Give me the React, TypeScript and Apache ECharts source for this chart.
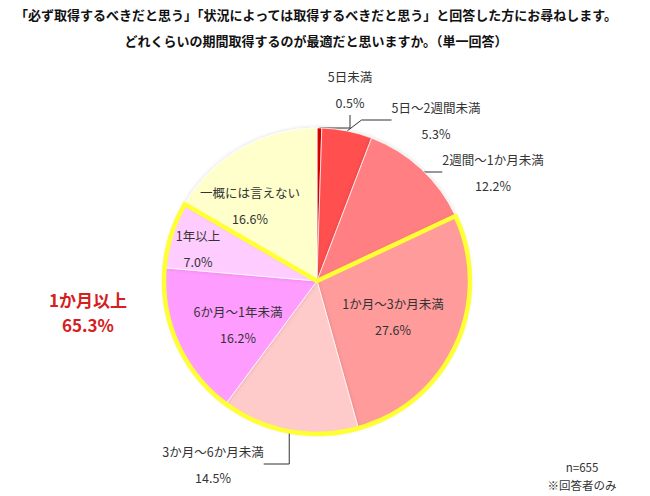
import React, { useEffect, useRef } from 'react';
import * as echarts from 'echarts';

const categories = [
  '5日未満',
  '5日～2週間未満',
  '2週間～1か月未満',
  '1か月～3か月未満',
  '3か月～6か月未満',
  '6か月～1年未満',
  '1年以上',
  '一概には言えない',
];
const values = [0.5, 5.3, 12.2, 27.6, 14.5, 16.2, 7.0, 16.6];
const colors = ['#e60000', '#ff4f4f', '#ff7f82', '#ff9b9b', '#ffcaca', '#ff9cff', '#ffccff', '#ffffcc'];
const outsideLabel = [true, true, true, false, true, false, false, false];

// group highlighted by the yellow outline (1か月以上)
const groupSplit = [0.5 + 5.3 + 12.2, 65.3, 16.6];
const groupTitle = '1か月以上';
const groupValue = '65.3%';

const titleLines = [
  '「必ず取得するべきだと思う」「状況によっては取得するべきだと思う」と回答した方にお尋ねします。',
  'どれくらいの期間取得するのが最適だと思いますか。（単一回答）',
];
const noteLines = ['n=655', '※回答者のみ'];

// label centres (px) for each slice
const labelPos: [number, number][] = [
  [350, 89],
  [436, 120],
  [493, 172],
  [393, 316],
  [213, 464],
  [238, 324],
  [198, 248],
  [250, 205],
];

const FONT = '"Noto Sans CJK JP", "Noto Sans", sans-serif';

const App: React.FC = () => {
  const chartRef = useRef<HTMLDivElement>(null);

  useEffect(() => {
    document.body.style.margin = '0';
    if (!chartRef.current) return;
    const chart = echarts.init(chartRef.current, null, { renderer: 'svg' });

    chart.setOption({
      animation: false,
      backgroundColor: '#ffffff',
      textStyle: { fontFamily: FONT },
      graphic: [
        ...titleLines.map((t, i) => ({
          type: 'text',
          x: 316,
          y: 14 + i * 26,
          style: {
            text: t,
            font: `bold 13px ${FONT}`,
            fill: '#111',
            align: 'center',
            verticalAlign: 'middle',
          },
        })),
        {
          type: 'text',
          x: 88,
          y: 312,
          style: {
            text: `${groupTitle}\n${groupValue}`,
            font: `bold 17px ${FONT}`,
            fill: '#d42020',
            align: 'center',
            verticalAlign: 'middle',
            lineHeight: 25,
          },
        },
        {
          type: 'text',
          x: 582,
          y: 476,
          style: {
            text: noteLines.join('\n'),
            font: `11.5px ${FONT}`,
            fill: '#333',
            align: 'center',
            verticalAlign: 'middle',
            lineHeight: 18,
          },
        },
      ],
      series: [
        {
          type: 'pie',
          center: [317, 281],
          radius: [0, 153],
          startAngle: 90,
          clockwise: true,
          avoidLabelOverlap: false,
          itemStyle: {
            borderColor: 'rgba(255,255,255,0.7)',
            borderWidth: 1,
            shadowBlur: 4,
            shadowColor: 'rgba(0,0,0,0.15)',
          },
          label: {
            formatter: (p: any) => `${p.name}\n${p.value.toFixed(1)}%`,
            fontSize: 12.5,
            lineHeight: 26,
            color: '#333',
            fontFamily: FONT,
          },
          labelLine: { lineStyle: { color: '#333', width: 1 } },
          labelLayout: (p: any) => {
            const pos = labelPos[p.dataIndex];
            return { x: pos[0], y: pos[1], align: 'center', verticalAlign: 'middle' };
          },
          data: categories.map((name, i) => ({
            name,
            value: values[i],
            itemStyle: { color: colors[i] },
            label: { position: outsideLabel[i] ? 'outside' : 'inside' },
            labelLine: { show: outsideLabel[i] },
          })),
        },
        {
          type: 'pie',
          center: [317, 281],
          radius: [0, 153],
          startAngle: 90,
          silent: true,
          label: { show: false },
          labelLine: { show: false },
          data: groupSplit.map((v, i) => ({
            value: v,
            itemStyle:
              i === 1
                ? { color: 'rgba(0,0,0,0)', borderColor: '#ffff33', borderWidth: 4.5 }
                : { color: 'rgba(0,0,0,0)', borderWidth: 0 },
          })),
        },
      ],
    });

    return () => chart.dispose();
  }, []);

  return <div ref={chartRef} style={{ width: 650, height: 496 }} />;
};

export default App;
